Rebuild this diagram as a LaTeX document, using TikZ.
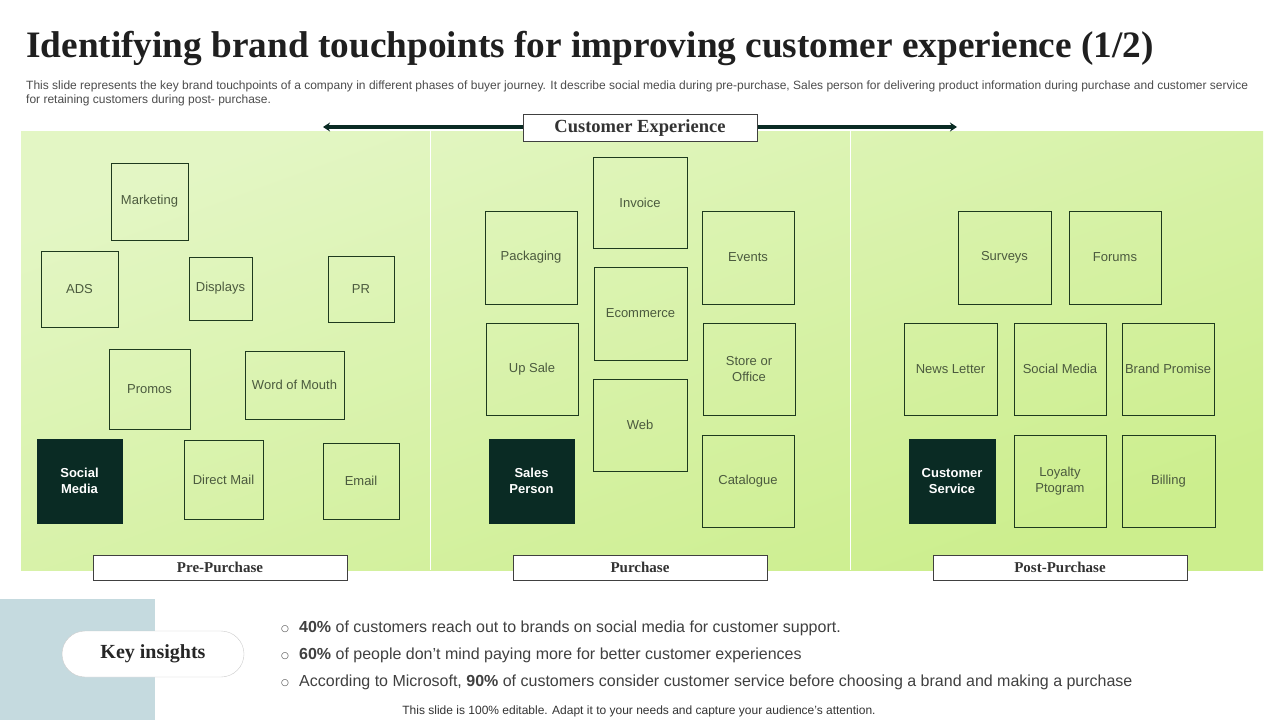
\documentclass[tikz,border=0pt]{standalone}
\usepackage{fontspec}
\setmainfont{Liberation Serif}
\setsansfont{Liberation Sans}
\newfontfamily\symfont{DejaVu Sans}
\usetikzlibrary{arrows.meta}
\definecolor{dk}{HTML}{0A2B24}
\definecolor{boxtxt}{HTML}{4B5A3E}
\definecolor{boxline}{HTML}{1E3A1E}
\definecolor{pantop}{HTML}{E3F6C4}
\definecolor{panbot}{HTML}{CCEE8D}
\definecolor{slate}{HTML}{C5DADF}
\definecolor{bodytxt}{HTML}{404040}
\tikzset{
  tp/.style={draw=boxline, line width=0.9pt, inner sep=0pt, align=center,
    font=\sffamily\fontsize{13}{15.5}\selectfont, text=boxtxt},
  tpdark/.style={fill=dk, draw=dk, inner sep=0pt, align=center,
    font=\sffamily\bfseries\fontsize{13}{15.5}\selectfont, text=white},
  phase/.style={draw=black!75, fill=white, line width=0.8pt, inner sep=0pt,
    font=\rmfamily\bfseries\fontsize{15}{17}\selectfont, text=black!80},
  bul/.style={anchor=west, inner sep=0pt, font=\sffamily\fontsize{16}{19}\selectfont, text=bodytxt},
  dot/.style={inner sep=0pt, font=\symfont\fontsize{9}{11}\selectfont, text=bodytxt},
}
\newcommand\tbox[7][tp]{%
  \node[#1, minimum width={(#5-#3)*1pt}, minimum height={(#6-#4)*1pt}]
    (#2) at ({(#3+#5)/2},{(#4+#6)/2}) {#7};}
\begin{document}
\begin{tikzpicture}[x=1pt,y=-1pt]
\useasboundingbox (0,0) rectangle (1280,720);
\fill[white] (0,0) rectangle (1280,720);

% title and subtitle
\node[anchor=west, inner sep=0pt, text=black!88] (title) at (26,48.5)
  {\fontsize{37.3}{42}\selectfont\bfseries Identifying brand touchpoints for improving customer experience (1/2)};
\node[anchor=west, inner sep=0pt, text=black!70, font=\sffamily\fontsize{12}{13}\selectfont] (sub1) at (26,86)
  {This slide represents the key brand touchpoints of a company in different phases of buyer journey. It describe social media during pre-purchase, Sales person for delivering  product information during purchase and customer service};
\node[anchor=west, inner sep=0pt, text=black!70, font=\sffamily\fontsize{12}{13}\selectfont] (sub2) at (26,100)
  {for retaining customers during post- purchase.};

% panels
\shade[top color=pantop, bottom color=panbot, shading angle=20] (21,131) rectangle (1263,570);
\draw[white, line width=1pt] (430.5,131) -- (430.5,570);
\draw[white, line width=1pt] (850.5,131) -- (850.5,570);

% customer experience arrow
\coordinate (arL) at (323,127);
\coordinate (arR) at (957,127);
\draw[dk, line width=4.5pt, {Stealth[length=7pt,width=9pt]}-{Stealth[length=7pt,width=9pt]}] (arL) -- (arR);
\node[phase, minimum width=234pt, minimum height=27pt, font=\rmfamily\bfseries\fontsize{18.5}{20}\selectfont] (ce) at (640,128) {Customer Experience};

% pre-purchase
\tbox{mkt}{111}{163}{188}{240}{Marketing}
\tbox{ads}{41}{251}{118}{327}{ADS}
\tbox{disp}{189}{257}{252}{320}{Displays}
\tbox{pr}{328}{256}{394}{322}{PR}
\tbox{promo}{109}{349}{190}{429}{Promos}
\tbox{wom}{245}{351}{344}{419}{Word of Mouth}
\tbox[tpdark]{socm}{37}{439}{122}{523}{Social\\Media}
\tbox{dm}{184}{440}{263}{519}{Direct Mail}
\tbox{email}{323}{443}{399}{519}{Email}
\tbox[phase]{pre}{93}{555}{347}{580}{Pre-Purchase}

% purchase
\tbox{inv}{593}{157}{687}{248}{Invoice}
\tbox{pack}{485}{211}{577}{304}{Packaging}
\tbox{evt}{702}{211}{794}{304}{Events}
\tbox{ecom}{594}{267}{687}{360}{Ecommerce}
\tbox{ups}{486}{323}{578}{415}{Up Sale}
\tbox{store}{703}{323}{795}{415}{Store or\\Office}
\tbox{web}{593}{379}{687}{471}{Web}
\tbox[tpdark]{sales}{489}{439}{574}{523}{Sales\\Person}
\tbox{cat}{702}{435}{794}{527}{Catalogue}
\tbox[phase]{pur}{513}{555}{767}{580}{Purchase}

% post-purchase
\tbox{surv}{958}{211}{1051}{304}{Surveys}
\tbox{for}{1069}{211}{1161}{304}{Forums}
\tbox{news}{904}{323}{997}{415}{News Letter}
\tbox{smed}{1014}{323}{1106}{415}{Social Media}
\tbox{brand}{1122}{323}{1214}{415}{Brand Promise}
\tbox[tpdark]{cserv}{909}{439}{995}{523}{Customer\\Service}
\tbox{loyal}{1014}{435}{1106}{527}{Loyalty\\Ptogram}
\tbox{bill}{1122}{435}{1215}{527}{Billing}
\tbox[phase]{post}{933}{555}{1187}{580}{Post-Purchase}

% key insights
\fill[slate] (0,599) rectangle (155,720);
\node[draw=black!20, fill=white, rounded corners=23pt, minimum width=182pt, minimum height=46pt,
  font=\rmfamily\bfseries\fontsize{20}{22}\selectfont, text=black!85] (ki) at (153,654) {\raisebox{-2pt}{Key insights}};

\node[dot] (d1) at (285,629) {○};
\node[dot] (d2) at (285,656) {○};
\node[dot] (d3) at (285,683) {○};
\node[bul] (b1) at (299,628) {\textbf{40\%} of customers reach out to brands on social media for customer support.};
\node[bul] (b2) at (299,655) {\textbf{60\%} of people don’t mind paying more for better customer experiences};
\node[bul] (b3) at (299,682) {According to Microsoft, \textbf{90\%} of customers consider customer service before choosing a brand and making a purchase};

\node[inner sep=0pt, font=\sffamily\fontsize{12}{14}\selectfont, text=black!80] (foot) at (639,711)
  {This slide is 100\% editable. Adapt it to your needs and capture your audience's attention.};
\end{tikzpicture}
\end{document}
